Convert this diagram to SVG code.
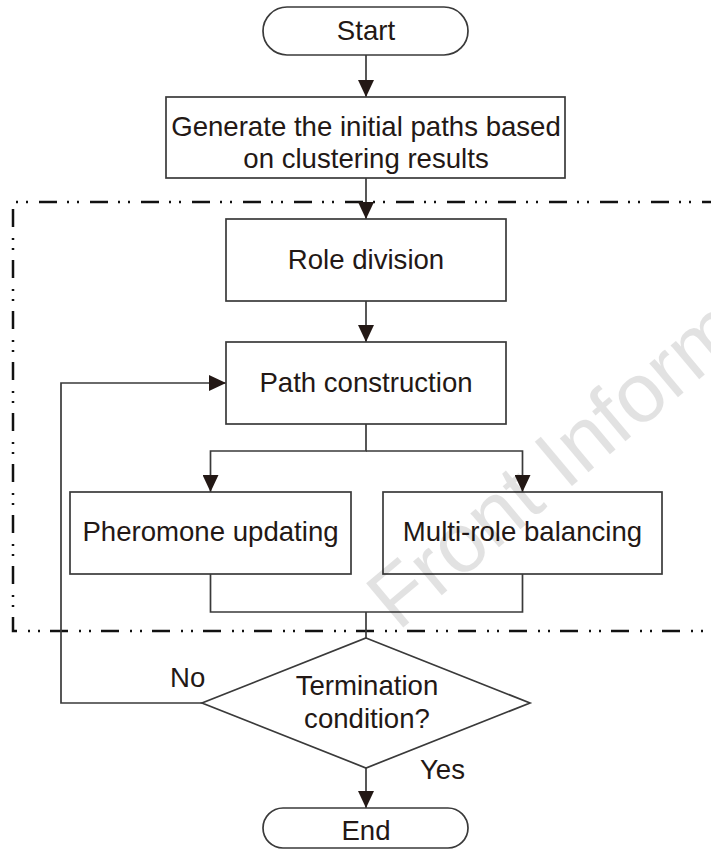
<svg xmlns="http://www.w3.org/2000/svg" width="711" height="849" viewBox="0 0 711 849">
  <style>
    .box { fill: #ffffff; stroke: #3a3a3a; stroke-width: 1.7; }
    .lbl { font-family: "Liberation Sans", Arial, sans-serif; font-size: 27.6px; fill: #231815; text-anchor: middle; }
    .side { font-family: "Liberation Sans", Arial, sans-serif; font-size: 27.6px; fill: #231815; }
    .conn { fill: none; stroke: #3a3a3a; stroke-width: 1.7; }
    .frame { fill: none; stroke: #111111; stroke-width: 2.5; stroke-dasharray: 18 11 2 8 2 10; }
    .wm { font-family: "Liberation Sans", Arial, sans-serif; font-size: 84px; fill: #000000; opacity: 0.11; }
  </style>
  <defs>
    <marker id="arr" markerUnits="userSpaceOnUse" markerWidth="17" markerHeight="16" refX="17" refY="8" orient="auto">
      <path d="M0,0 L17,8 L0,16 Z" fill="#231815"/>
    </marker>
  </defs>
  <rect x="0" y="0" width="711" height="849" fill="#ffffff"/>

  <g id="frame">
    <path class="frame" d="M720,202 H13 V631 H720"/>
  </g>

  <g id="connectors">
    <path class="conn" d="M366,55 V97" marker-end="url(#arr)"/>
    <path class="conn" d="M366,178 V219" marker-end="url(#arr)"/>
    <path class="conn" d="M366,301 V342" marker-end="url(#arr)"/>
    <path class="conn" d="M366,424 V451 H210.5 V492" marker-end="url(#arr)"/>
    <path class="conn" d="M366,451 H522.5 V492" marker-end="url(#arr)"/>
    <path class="conn" d="M210.5,574 V612 H522.5 V574"/>
    <path class="conn" d="M366,612 V638"/>
    <path class="conn" d="M366,768 V808" marker-end="url(#arr)"/>
    <path class="conn" d="M202,703 H61 V383 H226" marker-end="url(#arr)"/>
  </g>

  <g id="start">
    <rect class="box" x="263" y="7" width="205" height="48" rx="24" ry="24"/>
    <text class="lbl" x="366" y="40">Start</text>
  </g>

  <g id="generate">
    <rect class="box" x="166" y="97" width="399" height="81"/>
    <text class="lbl" x="366" y="136">Generate the initial paths based</text>
    <text class="lbl" x="366" y="168">on clustering results</text>
  </g>

  <g id="role">
    <rect class="box" x="226" y="219" width="280" height="82"/>
    <text class="lbl" x="366" y="269">Role division</text>
  </g>

  <g id="path">
    <rect class="box" x="226" y="342" width="280" height="82"/>
    <text class="lbl" x="366" y="392">Path construction</text>
  </g>

  <g id="pheromone">
    <rect class="box" x="70" y="492" width="281" height="82"/>
    <text class="lbl" x="210.5" y="541">Pheromone updating</text>
  </g>

  <g id="multirole">
    <rect class="box" x="383" y="492" width="279" height="82"/>
    <text class="lbl" x="522.5" y="541">Multi-role balancing</text>
  </g>

  <g id="decision">
    <polygon class="box" points="366,638 530,703 366,768 202,703"/>
    <text class="lbl" x="367" y="695">Termination</text>
    <text class="lbl" x="367" y="728">condition?</text>
  </g>

  <g id="labels">
    <text class="side" x="170" y="687">No</text>
    <text class="side" x="420" y="779">Yes</text>
  </g>

  <g id="end">
    <rect class="box" x="263" y="808" width="205" height="40" rx="20" ry="20"/>
    <text class="lbl" x="366" y="840">End</text>
  </g>

  <g id="watermark">
    <text class="wm" x="398" y="632" transform="rotate(-40 398 632)">Front Inform</text>
  </g>
</svg>
